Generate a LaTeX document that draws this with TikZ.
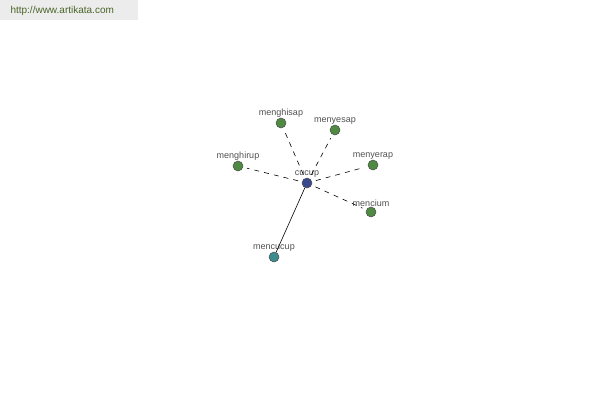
\documentclass[tikz,border=0pt]{standalone}
\usepackage{fontspec}
\setmainfont{Liberation Sans}
\definecolor{leaf}{RGB}{78,138,66}
\definecolor{root}{RGB}{58,72,142}
\definecolor{kin}{RGB}{62,140,140}
\definecolor{tag}{RGB}{80,80,80}
\definecolor{site}{RGB}{74,100,40}
\definecolor{band}{RGB}{236,236,236}
\usetikzlibrary{positioning}

\begin{document}
\begin{tikzpicture}[x=1pt,y=-1pt,
    word/.style={circle,draw=black!70,line width=0.5pt,minimum size=10pt,inner sep=0pt},
    lbl/.style={font=\fontsize{9}{10}\selectfont,text=tag,inner sep=1pt},
    rel/.style={black,line width=0.6pt,dash pattern=on 5pt off 5pt,shorten <=4pt,shorten >=4pt},
    link/.style={black,line width=0.6pt}]
  \useasboundingbox (0,0) rectangle (600,400);
  \fill[band] (0,0) rectangle (138,20);
  \node[font=\fontsize{10}{11}\selectfont,text=site,anchor=west] (site) at (7,11) {http://www.artikata.com};
  % the word and its neighbours
  \node[word,fill=root,label={[lbl,label distance=-1pt]above:cucup}] (cucup) at (307,183) {};
  \foreach \n/\x/\y in {menghisap/281/123, menyesap/335/130, menghirup/238/166, menyerap/373/165, mencium/371/212} {
    \node[word,fill=leaf,label={[lbl,label distance=-1pt]above:\n}] (\n) at (\x,\y) {};
    \draw[rel] (cucup) -- (\n);
  }
  \node[word,fill=kin,label={[lbl,label distance=-1pt]above:mencucup}] (mencucup) at (274,257) {};
  \draw[link] (cucup) -- (mencucup);
\end{tikzpicture}
\end{document}
